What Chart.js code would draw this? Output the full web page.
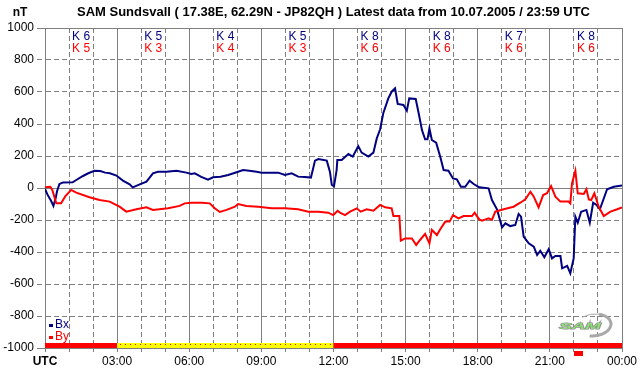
<!DOCTYPE html>
<html>
<head>
<meta charset="utf-8">
<script src="https://cdn.jsdelivr.net/npm/chart.js@4.4.1/dist/chart.umd.min.js"></script>
<style>
  body { margin: 0; background: #fff; }
  #magChart { display: block; }
</style>
</head>
<body>
<canvas id="magChart" width="642" height="376"></canvas>
<script>
// magnetometer components, hours UTC / nT
const bxHours = [0, 0.1, 0.25, 0.35, 0.45, 0.5, 0.6, 0.75, 1.15, 1.3, 1.58, 1.8, 2.06, 2.3, 2.5, 2.7, 2.97, 3.24, 3.52, 3.65, 3.94,
    4.22, 4.49, 4.7, 5.05, 5.47, 5.88, 6.09, 6.23, 6.5, 6.78, 6.99, 7.3, 7.62, 8.0, 8.24, 8.5, 8.8, 9.01, 9.4, 9.7, 9.98,
    10.26, 10.53, 10.8, 11.06, 11.15, 11.23, 11.37, 11.72, 11.85, 11.93, 12.02, 12.13, 12.16, 12.34, 12.62, 12.8, 13.03,
    13.17, 13.45, 13.66, 13.8, 13.94, 14.07, 14.28, 14.42, 14.56, 14.67, 14.91, 15.05, 15.15, 15.42, 15.53, 15.68, 15.81,
    15.91, 15.99, 16.09, 16.27, 16.44, 16.58, 16.78, 16.97, 17.13, 17.3, 17.48, 17.66, 17.83, 18.06, 18.45, 18.59, 18.8,
    19.01, 19.15, 19.35, 19.56, 19.7, 19.8, 19.91, 20.12, 20.33, 20.47, 20.6, 20.77, 20.95, 21.09, 21.23, 21.44, 21.51,
    21.72, 21.85, 21.99, 22.06, 22.16, 22.3, 22.52, 22.66, 22.8, 22.94, 23.08, 23.38, 23.66, 24]
const bxValues = [-5, -40, -80, -112, -60, -20, 25, 35, 36, 50, 75, 92, 108, 106, 96, 92, 78, 46, 23, 4, 23,
    40, 92, 102, 102, 108, 96, 88, 92, 70, 52, 67, 70, 81, 100, 112, 108, 102, 96, 96, 96, 81,
    92, 71, 68, 65, 120, 171, 181, 171, 102, 19, 10, 112, 175, 175, 212, 196, 262,
    221, 196, 221, 310, 367, 467, 560, 602, 623, 525, 519, 483, 560, 556, 477, 362, 304,
    304, 373, 300, 283, 196, 112, 108, 60, 54, 8, 8, 46, 25, 4, -2, -75, -133,
    -246, -221, -238, -231, -162, -179, -304, -346, -367, -419, -392, -433, -383, -440, -425, -425, -502,
    -487, -533, -440, -179, -217, -148, -137, -217, -92, -106, -133, -8, 8, 15]

const byHours = [0, 0.22, 0.3, 0.47, 0.67, 0.85, 1.09, 1.3, 1.85, 2.27, 2.69, 3.1, 3.38, 3.8, 4.22, 4.49, 5.12, 5.6, 5.81,
    6.09, 6.51, 6.85, 7.06, 7.27, 7.55, 7.9, 8.03, 8.38, 8.87, 9.43, 9.98, 10.53, 10.95, 11.37, 11.78, 11.99, 12.17,
    12.27, 12.48, 12.69, 12.97, 13.13, 13.38, 13.66, 13.94, 14.15, 14.42, 14.49, 14.74, 14.8, 14.98, 15.26, 15.44, 15.6,
    15.81, 15.99, 16.09, 16.3, 16.44, 16.65, 16.83, 16.97, 17.2, 17.41, 17.76, 17.87, 18.06, 18.18, 18.45, 18.59, 18.73,
    19.08, 19.49, 19.77, 19.98, 20.19, 20.33, 20.53, 20.72, 20.88, 21.05, 21.23, 21.44, 21.78, 21.85, 21.92, 22.06, 22.16,
    22.41, 22.52, 22.62, 22.72, 22.85, 23.03, 23.24, 23.52, 23.8, 24]
const byValues = [4, 8, -10, -96, -96, -50, -12, -29, -58, -75, -85, -117, -148, -133, -121, -137, -127, -112, -96,
    -92, -92, -96, -127, -150, -137, -117, -100, -112, -117, -127, -127, -133, -148, -148, -154, -169, -142,
    -154, -169, -148, -127, -148, -133, -142, -106, -121, -127, -175, -175, -329, -315, -315, -356, -325,
    -287, -346, -262, -294, -258, -210, -210, -169, -190, -175, -175, -154, -196, -204, -190, -200, -148,
    -133, -117, -92, -71, -23, -54, -121, -44, -33, 12, -54, -85, -85, -96, 29, 108, -33,
    -37, -8, -71, -75, -33, -117, -175, -148, -133, -121]

// K indices per 3 hour block
const kBlockStart = [0, 3, 6, 9, 12, 15, 18, 21]
const kBx = [6, 5, 4, 5, 8, 8, 7, 8]
const kBy = [5, 3, 4, 3, 6, 6, 6, 6]

// data status strip along the bottom
const statusFrom = [0, 3, 12]
const statusTo = [3, 12, 24]
const statusKind = ['red', 'yellow', 'red']
const markerFrom = [22.02]
const markerTo = [22.4]

const yTicks = [-1000, -800, -600, -400, -200, 0, 200, 400, 600, 800, 1000]

const FONT = '"Liberation Sans", Arial, sans-serif'
const GRID = '#808080'
const BX_COLOR = '#000080'
const BY_COLOR = '#ff0000'

function toPoints(hours, values) {
    return hours.map((h, i) => ({ x: h, y: values[i] }))
}

const decorPlugin = {
    id: 'decor',
    afterDatasetsDraw(chart) {
        const { ctx, chartArea, scales } = chart
        const x = scales.x
        ctx.save()

        // K labels
        ctx.font = '12px ' + FONT
        ctx.textAlign = 'center'
        ctx.textBaseline = 'middle'
        kBlockStart.forEach((h, i) => {
            const px = x.getPixelForValue(h + 1.5)
            ctx.fillStyle = BX_COLOR
            ctx.fillText('K ' + kBx[i], px, chartArea.top + 9)
            ctx.fillStyle = BY_COLOR
            ctx.fillText('K ' + kBy[i], px, chartArea.top + 21)
        })

        // status strip
        const top = chartArea.bottom - 5
        statusFrom.forEach((h, i) => {
            const x1 = x.getPixelForValue(h)
            const x2 = x.getPixelForValue(statusTo[i])
            if (statusKind[i] === 'yellow') {
                ctx.fillStyle = '#ffff00'
                ctx.fillRect(x1, top, x2 - x1, 5)
                ctx.fillStyle = '#ff0000'
                for (let d = x1 + 3; d < x2; d += 5) {
                    ctx.fillRect(Math.round(d), top + 1, 1, 1)
                }
            } else {
                ctx.fillStyle = '#ff0000'
                ctx.fillRect(x1, top, x2 - x1, 5)
            }
        })
        ctx.fillStyle = '#ff0000'
        markerFrom.forEach((h, i) => {
            const x1 = x.getPixelForValue(h)
            const x2 = x.getPixelForValue(markerTo[i])
            ctx.fillRect(Math.round(x1), chartArea.bottom + 3, Math.round(x2 - x1), 5)
        })

        // legend
        ctx.textAlign = 'left'
        ctx.font = '12px ' + FONT
        chart.data.datasets.forEach((ds, i) => {
            const ly = chartArea.bottom - 23 + i * 12
            ctx.fillStyle = ds.borderColor
            ctx.fillRect(chartArea.left + 4, ly - 1, 4, 3)
            ctx.fillText(ds.label, chartArea.left + 10, ly)
        })

        // unit
        ctx.fillStyle = '#000'
        ctx.font = 'bold 12px ' + FONT
        ctx.textAlign = 'center'
        ctx.fillText('nT', 20, 13)

        // logo
        ctx.strokeStyle = '#a8a8a8'
        ctx.lineWidth = 1
        ctx.beginPath()
        ctx.ellipse(594, 325, 19, 11, -0.1, -2.2, -1.2)
        ctx.stroke()
        ctx.lineWidth = 3
        ctx.beginPath()
        ctx.ellipse(594, 325, 17, 11, -0.1, -1.2, 1.9)
        ctx.stroke()
        ctx.save()
        ctx.translate(580, 326)
        ctx.scale(1.7, 0.9)
        ctx.font = 'italic bold 11px ' + FONT
        ctx.lineWidth = 1.2
        ctx.strokeStyle = '#8c8c8c'
        ctx.strokeText('SAM', 0, 0)
        ctx.fillStyle = '#8fdc78'
        ctx.fillText('SAM', 0, 0)
        ctx.restore()

        ctx.restore()
    }
}

function isMajorX(c) {
    return c.tick && c.tick.value % 3 === 0
}
function isMajorY(c) {
    return c.tick && (c.tick.value === 0 || Math.abs(c.tick.value) === 1000)
}

new Chart(document.getElementById('magChart'), {
    type: 'line',
    data: {
        datasets: [{
            label: 'Bx',
            data: toPoints(bxHours, bxValues),
            borderColor: BX_COLOR,
            borderWidth: 2,
            pointRadius: 0,
            tension: 0,
            order: 2
        }, {
            label: 'By',
            data: toPoints(byHours, byValues),
            borderColor: BY_COLOR,
            borderWidth: 2,
            pointRadius: 0,
            tension: 0,
            order: 1
        }]
    },
    options: {
        responsive: false,
        animation: false,
        devicePixelRatio: 1,
        layout: { padding: { left: 0, right: 20, top: 0, bottom: 0 } },
        plugins: {
            legend: { display: false },
            tooltip: { enabled: false },
            title: {
                display: true,
                fullSize: false,
                text: 'SAM Sundsvall ( 17.38E, 62.29N - JP82QH ) Latest data from 10.07.2005 / 23:59 UTC',
                color: '#000',
                font: { family: FONT, size: 13, weight: 'bold' },
                padding: { top: 5, bottom: 7.4 }
            }
        },
        scales: {
            x: {
                type: 'linear',
                min: 0,
                max: 24,
                afterFit: (s) => { s.height = 28 },
                ticks: {
                    stepSize: 1,
                    autoSkip: false,
                    maxRotation: 0,
                    padding: 2,
                    color: '#000',
                    font: (c) => ({ family: FONT, size: 12, weight: c.tick && c.tick.value === 0 ? 'bold' : 'normal' }),
                    callback: (v) => {
                        if (v === 0) return 'UTC'
                        if (v % 3 !== 0) return ''
                        return String(v % 24).padStart(2, '0') + ':00'
                    }
                },
                grid: {
                    color: GRID,
                    tickColor: GRID,
                    tickLength: 4
                },
                border: {
                    color: GRID,
                    dash: (c) => (isMajorX(c) || !c.tick ? [] : [5, 3])
                }
            },
            y: {
                min: -1000,
                max: 1000,
                afterFit: (s) => { s.width = 45 },
                afterBuildTicks: (s) => { s.ticks = yTicks.map(v => ({ value: v })) },
                ticks: {
                    padding: 3,
                    color: '#000',
                    font: { family: FONT, size: 12 },
                    callback: (v) => String(v)
                },
                grid: {
                    color: GRID,
                    tickColor: GRID,
                    tickLength: 8,
                    tickBorderDash: (c) => (isMajorY(c) ? [] : [5, 3])
                },
                border: {
                    color: GRID,
                    dash: (c) => (isMajorY(c) || !c.tick ? [] : [5, 3])
                }
            }
        }
    },
    plugins: [decorPlugin]
})
</script>
</body>
</html>
